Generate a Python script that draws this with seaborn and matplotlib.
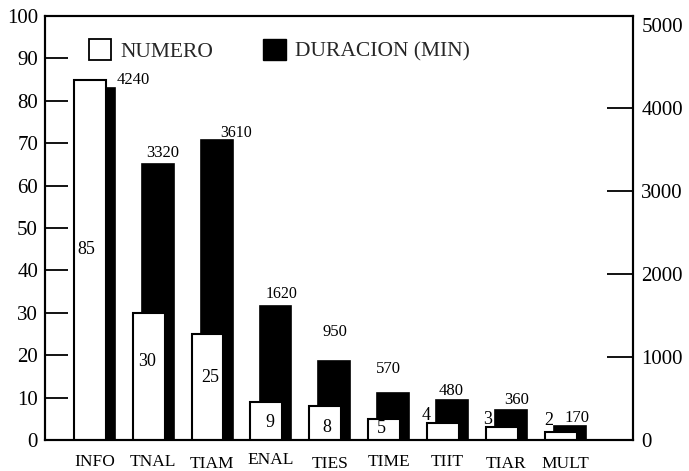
import numpy as np
import pandas as pd
import matplotlib
matplotlib.use("Agg")
import matplotlib.pyplot as plt
from matplotlib.patches import Patch
from matplotlib.transforms import ScaledTranslation
import seaborn as sns

# --- data -------------------------------------------------------------
categories = ["INFO", "TNAL", "TIAM", "ENAL", "TIES", "TIME", "TIIT", "TIAR", "MULT"]
numero = [85, 30, 25, 9, 8, 5, 4, 3, 2]
duracion = [4240, 3320, 3610, 1620, 950, 570, 480, 360, 170]
left_ticks = [0, 10, 20, 30, 40, 50, 60, 70, 80, 90, 100]
right_ticks = [0, 1000, 2000, 3000, 4000, 5000]

# --- styling ----------------------------------------------------------
sns.set_theme(style="white")
plt.rcParams["font.family"] = ["Liberation Serif", "DejaVu Serif"]

BAR_W = 0.54          # bar width in category units
SHIFT = 0.155         # the black bar sits slightly to the right of the white one

# label nudges (pixels): inside / beside the white bars, above the black bars
numero_off = [(-3, -170), (-2, -49), (3, -43), (4, -21), (2, -21), (-3, -10),
              (-17, 8), (-14, 8), (-12, 11)]
dur_off = [(34, 8), (5, 11), (20, 7), (6, 12), (1, 29), (-5, 24),
           (-1, 9), (6, 10), (7, 8)]
dur_size = [12, 12, 11.5, 11.5, 12, 12, 12, 12, 12]
cat_drop = [1, 2, 3, 0, 3, 2, 2, 3, 3]

df = pd.DataFrame({"cat": categories, "numero": numero, "duracion": duracion})
df["pos"] = np.arange(len(df), dtype=float)
df["pos_dur"] = df["pos"] + SHIFT

fig = plt.figure(figsize=(6.89, 4.71), dpi=100)
ax = fig.add_axes([45 / 689, 1 - 440 / 471, 588 / 689, 424 / 471])
ax2 = ax.twinx()

# black duration bars on the right-hand scale
sns.barplot(data=df, x="pos_dur", y="duracion", ax=ax2, native_scale=True,
            width=BAR_W, color="black", edgecolor="black", linewidth=1.2,
            errorbar=None, saturation=1)
# white count bars on the left-hand scale, drawn in front
sns.barplot(data=df, x="pos", y="numero", ax=ax, native_scale=True,
            width=BAR_W, color="white", edgecolor="black", linewidth=1.5,
            errorbar=None, saturation=1)

ax.set_zorder(ax2.get_zorder() + 1)
ax.patch.set_visible(False)

ax.set_xlim(-0.761, 9.23)
ax.set_ylim(0, 100)
ax2.set_ylim(0, 5108)

for a in (ax, ax2):
    a.set_xlabel("")
    a.set_ylabel("")
    for s in a.spines.values():
        s.set_color("black")
        s.set_linewidth(1.5)
        s.set_visible(True)

# left scale
ax.set_yticks(left_ticks)
ax.set_yticklabels([str(t) for t in left_ticks])
ax.tick_params(axis="y", which="major", left=True, right=False, direction="in",
               length=16.5, width=1.3, color="black", labelsize=15, pad=5,
               labelcolor="black")
for t in (ax.yaxis.get_major_ticks()[0], ax.yaxis.get_major_ticks()[-1]):
    t.tick1line.set_visible(False)

# right scale
ax2.set_yticks(right_ticks)
ax2.set_yticklabels([str(t) for t in right_ticks])
ax2.tick_params(axis="y", which="major", right=True, left=False, direction="in",
                length=19, width=1.3, color="black", labelsize=15, pad=6,
                labelcolor="black")
for t in (ax2.yaxis.get_major_ticks()[0], ax2.yaxis.get_major_ticks()[-1]):
    t.tick2line.set_visible(False)

# category labels under each pair of bars
ax.set_xticks(df["pos"] + SHIFT / 2)
ax.set_xticklabels(categories)
ax.tick_params(axis="x", bottom=False, top=False, labelsize=12.5, pad=3,
               labelcolor="black")
ax2.tick_params(axis="x", bottom=False, top=False, labelbottom=False)
for lab, d in zip(ax.get_xticklabels(), cat_drop):
    lab.set_transform(lab.get_transform() +
                      ScaledTranslation(0, -d / 100, fig.dpi_scale_trans))

# value labels
for x, v, (dx, dy) in zip(df["pos"], numero, numero_off):
    ax.annotate(str(v), (x, v), xytext=(dx, dy), textcoords="offset pixels",
                ha="center", va="center", fontsize=13, color="black")
for x, v, (dx, dy), fs in zip(df["pos_dur"], duracion, dur_off, dur_size):
    ax2.annotate(str(v), (x, v), xytext=(dx, dy), textcoords="offset pixels",
                 ha="center", va="center", fontsize=fs, color="black")

# legend
handles = [Patch(facecolor="white", edgecolor="black", linewidth=1.3, label="NUMERO"),
           Patch(facecolor="black", edgecolor="black", label="DURACION (MIN)")]
ax.legend(handles=handles, loc="upper left", bbox_to_anchor=(0.074, 0.945),
          ncol=2, frameon=False, fontsize=15.5, handlelength=1.05,
          handleheight=1.1, handletextpad=0.45, columnspacing=2.3,
          borderpad=0, borderaxespad=0)

fig.savefig("out.png", dpi=100, facecolor="white")
